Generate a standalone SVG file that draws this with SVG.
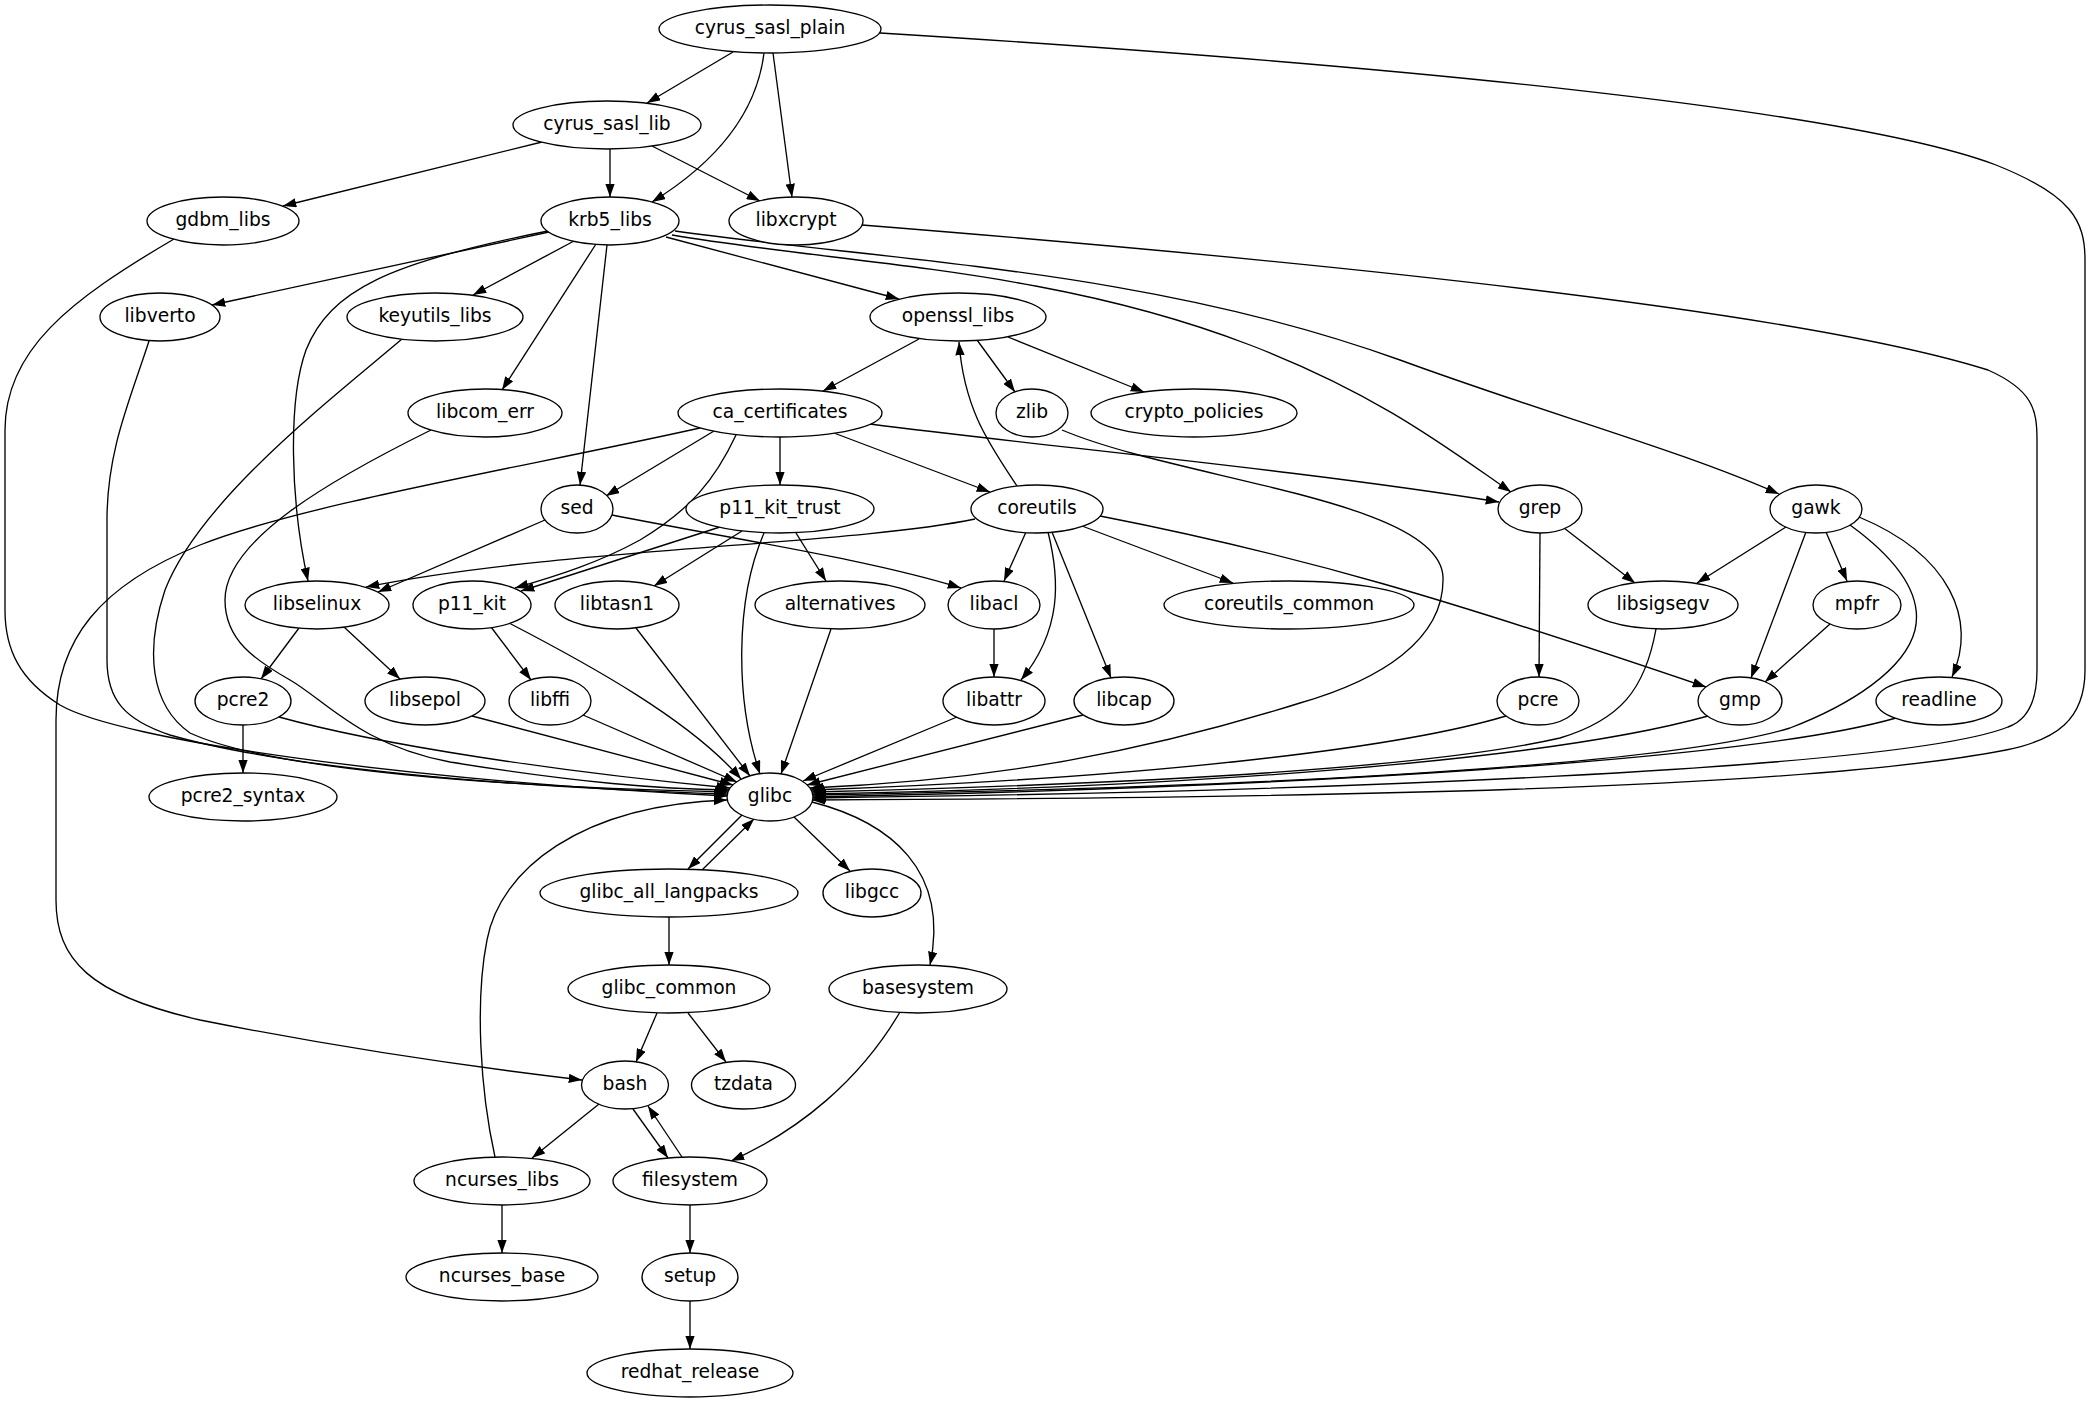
<svg xmlns="http://www.w3.org/2000/svg" width="2091" height="1403" viewBox="0 0 2091 1403">
<style>
.n ellipse{fill:#fff;stroke:#000;stroke-width:1.33}
.n text{font-family:"DejaVu Sans",Verdana,sans-serif;font-size:18.67px;text-anchor:middle;fill:#000}
#edges path{fill:none;stroke:#000;stroke-width:1.33;marker-end:url(#ah)}
</style>
<defs>
<marker id="ah" markerUnits="userSpaceOnUse" viewBox="0 0 13.3 9.4" markerWidth="13.3" markerHeight="9.4" refX="13.3" refY="4.7" orient="auto"><path d="M0,0 L13.3,4.7 L0,9.4 Z" fill="#000"/></marker>
</defs>
<rect width="2091" height="1403" fill="#fff"/>
<g id="edges">
<path d="M733,52 L647,103"/>
<path d="M764,53 C757,110 720,160 652,202"/>
<path d="M773,53 L792,197"/>
<path d="M880,33 C1400,65 1850,110 1996,165 C2071,195 2085,220 2085,260 L2085,670 C2085,720 2056,740 2006,750 C1800,790 1300,798 812,800"/>
<path d="M542,142 L283,206"/>
<path d="M610,149 L610,197"/>
<path d="M652,146 L760,201"/>
<path d="M174,239 C70,300 5,350 5,430 L5,610 C5,650 20,680 60,705 C120,740 400,780 727,796"/>
<path d="M862,225 C1300,260 1798,310 1988,370 C2033,390 2037,410 2037,440 L2037,670 C2037,700 2028,720 2008,727 C1900,770 1300,792 813,798"/>
<path d="M549,232 L212,305"/>
<path d="M574,241 L473,295"/>
<path d="M596,244 L502,390"/>
<path d="M607,245 L580,485"/>
<path d="M548,231 C390,262 330,290 306,350 C288,400 290,500 308,581"/>
<path d="M666,237 L899,299"/>
<path d="M672,235 C850,265 1050,268 1250,345 C1380,395 1450,450 1511,492"/>
<path d="M675,231 C900,262 1150,270 1400,360 C1550,415 1680,450 1779,494"/>
<path d="M149,341 C130,400 107,450 107,520 L107,660 C107,700 125,720 170,735 C280,767 500,787 727,794"/>
<path d="M402,339 C330,400 200,500 165,590 C145,650 150,705 190,733 C270,770 500,787 728,792"/>
<path d="M431,430 C330,480 225,540 225,600 C225,640 255,660 290,680 C325,700 360,745 450,762 C580,783 660,789 729,790"/>
<path d="M919,339 L823,391"/>
<path d="M977,340 L1015,392"/>
<path d="M1008,337 L1144,392"/>
<path d="M1017,486 C990,445 964,410 959,342"/>
<path d="M1062,430 C1180,480 1440,500 1443,577 C1445,640 1380,680 1300,703 C1150,750 1000,780 810,788"/>
<path d="M714,431 L606,496"/>
<path d="M736,435 C715,480 690,510 640,540 C600,562 560,575 515,588"/>
<path d="M780,437 L780,485"/>
<path d="M834,433 L990,492"/>
<path d="M870,424 C1050,447 1300,470 1499,502"/>
<path d="M700,428 C520,468 300,505 200,545 C100,585 56,640 56,720 L56,900 C56,960 90,995 200,1020 C350,1050 480,1068 582,1080"/>
<path d="M545,520 L378,592"/>
<path d="M612,515 C750,542 870,560 961,588"/>
<path d="M720,527 L521,591"/>
<path d="M742,531 L654,586"/>
<path d="M796,533 L826,581"/>
<path d="M764,533 C735,600 735,700 760,774"/>
<path d="M975,519 C850,545 560,548 366,587"/>
<path d="M1026,532 L1004,581"/>
<path d="M1048,532 C1060,580 1062,630 1021,680"/>
<path d="M1052,532 L1111,678"/>
<path d="M1082,526 L1233,583"/>
<path d="M1100,516 C1300,555 1450,600 1706,687"/>
<path d="M1540,533 L1539,677"/>
<path d="M1564,528 L1635,583"/>
<path d="M1786,527 L1697,583"/>
<path d="M1806,532 L1751,678"/>
<path d="M1826,532 L1847,581"/>
<path d="M1850,525 C1905,565 1922,600 1915,630 C1905,670 1850,705 1790,728 C1650,770 1200,788 813,795"/>
<path d="M1859,517 C1950,555 1978,620 1952,677"/>
<path d="M299,628 L261,679"/>
<path d="M344,627 L400,679"/>
<path d="M491,627 L531,680"/>
<path d="M509,623 C590,665 690,720 741,779"/>
<path d="M636,628 L750,776"/>
<path d="M831,629 L781,774"/>
<path d="M994,629 L994,677"/>
<path d="M1656,629 C1645,690 1620,720 1560,738 C1420,770 1100,785 812,792"/>
<path d="M1830,624 L1765,682"/>
<path d="M243,725 L243,773"/>
<path d="M279,717 C380,745 560,772 730,788"/>
<path d="M472,716 L733,785"/>
<path d="M583,715 L737,782"/>
<path d="M957,717 L803,781"/>
<path d="M1083,715 L807,785"/>
<path d="M1506,716 C1400,748 1150,778 811,790"/>
<path d="M1708,716 C1550,760 1200,787 813,794"/>
<path d="M1896,718 C1750,760 1300,787 813,797"/>
<path d="M742,815 L688,869"/>
<path d="M702,870 L754,819"/>
<path d="M794,817 L850,871"/>
<path d="M812,802 C890,822 950,870 930,965"/>
<path d="M669,917 L669,965"/>
<path d="M657,1013 L636,1062"/>
<path d="M688,1013 L726,1062"/>
<path d="M900,1012 C860,1080 800,1130 731,1161"/>
<path d="M599,1104 L532,1158"/>
<path d="M633,1109 L668,1158"/>
<path d="M682,1157 L648,1106"/>
<path d="M495,1157 C480,1090 475,1000 487,940 C500,870 580,805 727,800"/>
<path d="M502,1205 L502,1253"/>
<path d="M690,1205 L690,1253"/>
<path d="M690,1301 L690,1349"/>
</g>
<g id="cyrus_sasl_plain" class="n"><ellipse cx="770" cy="29" rx="111" ry="24"/><text x="770" y="34">cyrus_sasl_plain</text></g>
<g id="cyrus_sasl_lib" class="n"><ellipse cx="607" cy="125" rx="94" ry="24"/><text x="607" y="130">cyrus_sasl_lib</text></g>
<g id="gdbm_libs" class="n"><ellipse cx="223" cy="221" rx="76" ry="24"/><text x="223" y="226">gdbm_libs</text></g>
<g id="krb5_libs" class="n"><ellipse cx="610" cy="221" rx="69" ry="24"/><text x="610" y="226">krb5_libs</text></g>
<g id="libxcrypt" class="n"><ellipse cx="796" cy="221" rx="67" ry="24"/><text x="796" y="226">libxcrypt</text></g>
<g id="libverto" class="n"><ellipse cx="160" cy="317" rx="60" ry="24"/><text x="160" y="322">libverto</text></g>
<g id="keyutils_libs" class="n"><ellipse cx="435" cy="317" rx="88" ry="24"/><text x="435" y="322">keyutils_libs</text></g>
<g id="openssl_libs" class="n"><ellipse cx="958" cy="317" rx="88" ry="24"/><text x="958" y="322">openssl_libs</text></g>
<g id="libcom_err" class="n"><ellipse cx="485" cy="413" rx="77" ry="24"/><text x="485" y="418">libcom_err</text></g>
<g id="ca_certificates" class="n"><ellipse cx="780" cy="413" rx="102" ry="24"/><text x="780" y="418">ca_certificates</text></g>
<g id="zlib" class="n"><ellipse cx="1032" cy="413" rx="36" ry="24"/><text x="1032" y="418">zlib</text></g>
<g id="crypto_policies" class="n"><ellipse cx="1194" cy="413" rx="103" ry="24"/><text x="1194" y="418">crypto_policies</text></g>
<g id="sed" class="n"><ellipse cx="577" cy="509" rx="36" ry="24"/><text x="577" y="514">sed</text></g>
<g id="p11_kit_trust" class="n"><ellipse cx="780" cy="509" rx="94" ry="24"/><text x="780" y="514">p11_kit_trust</text></g>
<g id="coreutils" class="n"><ellipse cx="1037" cy="509" rx="66" ry="24"/><text x="1037" y="514">coreutils</text></g>
<g id="grep" class="n"><ellipse cx="1540" cy="509" rx="42" ry="24"/><text x="1540" y="514">grep</text></g>
<g id="gawk" class="n"><ellipse cx="1816" cy="509" rx="46" ry="24"/><text x="1816" y="514">gawk</text></g>
<g id="libselinux" class="n"><ellipse cx="317" cy="605" rx="72" ry="24"/><text x="317" y="610">libselinux</text></g>
<g id="p11_kit" class="n"><ellipse cx="472" cy="605" rx="59" ry="24"/><text x="472" y="610">p11_kit</text></g>
<g id="libtasn1" class="n"><ellipse cx="617" cy="605" rx="62" ry="24"/><text x="617" y="610">libtasn1</text></g>
<g id="alternatives" class="n"><ellipse cx="840" cy="605" rx="85" ry="24"/><text x="840" y="610">alternatives</text></g>
<g id="libacl" class="n"><ellipse cx="994" cy="605" rx="46" ry="24"/><text x="994" y="610">libacl</text></g>
<g id="coreutils_common" class="n"><ellipse cx="1289" cy="605" rx="125" ry="24"/><text x="1289" y="610">coreutils_common</text></g>
<g id="libsigsegv" class="n"><ellipse cx="1663" cy="605" rx="75" ry="24"/><text x="1663" y="610">libsigsegv</text></g>
<g id="mpfr" class="n"><ellipse cx="1857" cy="605" rx="44" ry="24"/><text x="1857" y="610">mpfr</text></g>
<g id="pcre2" class="n"><ellipse cx="243" cy="701" rx="48" ry="24"/><text x="243" y="706">pcre2</text></g>
<g id="libsepol" class="n"><ellipse cx="425" cy="701" rx="60" ry="24"/><text x="425" y="706">libsepol</text></g>
<g id="libffi" class="n"><ellipse cx="550" cy="701" rx="41" ry="24"/><text x="550" y="706">libffi</text></g>
<g id="libattr" class="n"><ellipse cx="994" cy="701" rx="51" ry="24"/><text x="994" y="706">libattr</text></g>
<g id="libcap" class="n"><ellipse cx="1124" cy="701" rx="50" ry="24"/><text x="1124" y="706">libcap</text></g>
<g id="pcre" class="n"><ellipse cx="1538" cy="701" rx="41" ry="24"/><text x="1538" y="706">pcre</text></g>
<g id="gmp" class="n"><ellipse cx="1740" cy="701" rx="42" ry="24"/><text x="1740" y="706">gmp</text></g>
<g id="readline" class="n"><ellipse cx="1939" cy="701" rx="63" ry="24"/><text x="1939" y="706">readline</text></g>
<g id="pcre2_syntax" class="n"><ellipse cx="243" cy="797" rx="94" ry="24"/><text x="243" y="802">pcre2_syntax</text></g>
<g id="glibc" class="n"><ellipse cx="770" cy="797" rx="43" ry="24"/><text x="770" y="802">glibc</text></g>
<g id="glibc_all_langpacks" class="n"><ellipse cx="669" cy="893" rx="129" ry="24"/><text x="669" y="898">glibc_all_langpacks</text></g>
<g id="libgcc" class="n"><ellipse cx="872" cy="893" rx="49" ry="24"/><text x="872" y="898">libgcc</text></g>
<g id="glibc_common" class="n"><ellipse cx="669" cy="989" rx="101" ry="24"/><text x="669" y="994">glibc_common</text></g>
<g id="basesystem" class="n"><ellipse cx="918" cy="989" rx="89" ry="24"/><text x="918" y="994">basesystem</text></g>
<g id="bash" class="n"><ellipse cx="625" cy="1085" rx="43.5" ry="24"/><text x="625" y="1090">bash</text></g>
<g id="tzdata" class="n"><ellipse cx="743.5" cy="1085" rx="52" ry="24"/><text x="743.5" y="1090">tzdata</text></g>
<g id="ncurses_libs" class="n"><ellipse cx="502" cy="1181" rx="88" ry="24"/><text x="502" y="1186">ncurses_libs</text></g>
<g id="filesystem" class="n"><ellipse cx="690" cy="1181" rx="77" ry="24"/><text x="690" y="1186">filesystem</text></g>
<g id="ncurses_base" class="n"><ellipse cx="502" cy="1277" rx="96" ry="24"/><text x="502" y="1282">ncurses_base</text></g>
<g id="setup" class="n"><ellipse cx="690" cy="1277" rx="48" ry="24"/><text x="690" y="1282">setup</text></g>
<g id="redhat_release" class="n"><ellipse cx="690" cy="1373" rx="103" ry="24"/><text x="690" y="1378">redhat_release</text></g>
</svg>
